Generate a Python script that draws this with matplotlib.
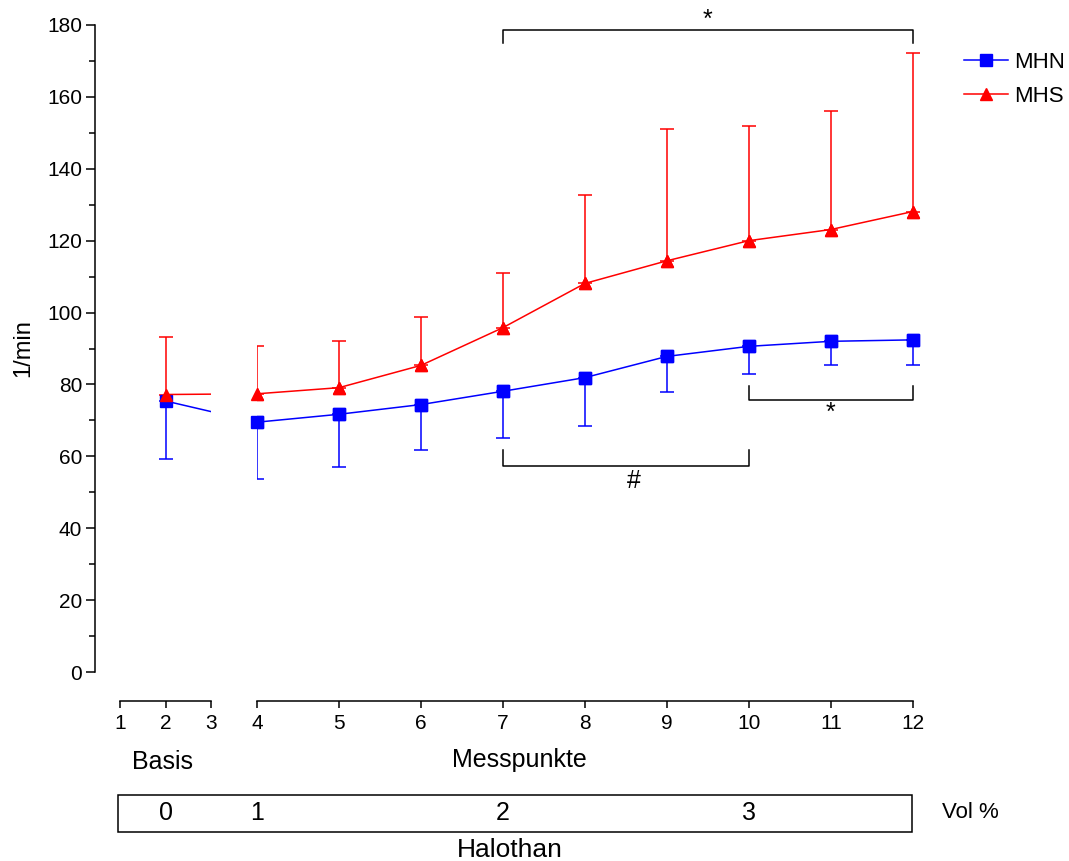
import matplotlib
matplotlib.use('Agg')
import matplotlib.pyplot as plt
import matplotlib.transforms as mtransforms
from matplotlib.patches import Rectangle
import numpy as np

plt.rcParams['font.family'] = ['Liberation Sans', 'DejaVu Sans']

# Messpunkte
x = [2, 4, 5, 6, 7, 8, 9, 10, 11, 12]
mhn_mean = [75.4, 69.5, 71.7, 74.4, 78.1, 81.9, 87.8, 90.6, 92.0, 92.4]
mhn_low = [59.3, 53.6, 57.0, 61.9, 65.0, 68.5, 77.9, 83.0, 85.3, 85.3]
mhs_mean = [77.2, 77.4, 79.1, 85.3, 95.8, 108.1, 114.4, 120.0, 123.1, 128.1]
mhs_high = [93.1, 90.6, 92.2, 98.9, 111.1, 132.7, 151.0, 151.8, 156.1, 172.2]

basis_ticks = [1, 2, 3]
mess_ticks = [4, 5, 6, 7, 8, 9, 10, 11, 12]

# Halothan Vol % labels and where they sit on the x scale
halothan_vol = ['0', '1', '2', '3']
halothan_x = [2, 4, 7, 10]

# significance brackets: (x start, x end, y line, y tip, label, label y)
brackets = [
    (7, 12, 178.6, 175.0, '*', 181.5),
    (7, 10, 57.3, 61.7, '#', 53.0),
    (10, 12, 75.6, 79.7, '*', 72.0),
]
bracket_label_x = [9.5, 8.6, 11.0]

W, H = 1069, 861


def px(xp, yp):
    return xp / W, 1 - yp / H


fig = plt.figure(figsize=(W / 100, H / 100), dpi=100)
bottom = (H - 672) / H
height = 647 / H
ax1 = fig.add_axes([95 / W, bottom, 116 / W, height])
ax2 = fig.add_axes([257 / W, bottom, 664 / W, height])

x = np.array(x)
mhn_mean = np.array(mhn_mean)
mhn_low = np.array(mhn_low)
mhs_mean = np.array(mhs_mean)
mhs_high = np.array(mhs_high)

blue = '#0000ff'
red = '#ff0000'
lw = 1.1


def draw(ax, sel, clip_markers):
    xs = x[sel]
    zero = np.zeros(len(xs))
    ax.errorbar(xs, mhn_mean[sel], yerr=[mhn_mean[sel] - mhn_low[sel], zero],
                fmt='none', ecolor=blue, elinewidth=lw, capsize=4.8, capthick=lw)
    ax.errorbar(xs, mhs_mean[sel], yerr=[zero, mhs_high[sel] - mhs_mean[sel]],
                fmt='none', ecolor=red, elinewidth=lw, capsize=4.8, capthick=lw)
    l1, = ax.plot(xs, mhn_mean[sel], color=blue, lw=lw, marker='s', ms=8,
                  label='MHN')
    l2, = ax.plot(xs, mhs_mean[sel], color=red, lw=lw, marker='^', ms=9,
                  label='MHS')
    if not clip_markers:
        ax.plot(xs, mhn_mean[sel], ls='none', color=blue, marker='s', ms=8,
                clip_on=False)
        ax.plot(xs, mhs_mean[sel], ls='none', color=red, marker='^', ms=9,
                clip_on=False)
    return l1, l2


draw(ax1, slice(None), True)
h1, h2 = draw(ax2, x >= 4, False)

for ax in (ax1, ax2):
    ax.set_ylim(0, 180)
    ax.spines['top'].set_visible(False)
    ax.spines['right'].set_visible(False)
    ax.spines['bottom'].set_position(('outward', 21))
    ax.spines['bottom'].set_linewidth(lw)
    ax.spines['left'].set_linewidth(lw)
    ax.tick_params(axis='x', which='major', direction='out', length=5,
                   width=lw, labelsize=15, pad=4)
    ax.patch.set_visible(False)

ax1.set_xlim(0.45, 3)
ax1.spines['bottom'].set_bounds(1, 3)
ax1.set_xticks(basis_ticks)
ax1.set_xticks([3], minor=True)
ax1.tick_params(axis='x', which='minor', direction='inout', length=10, width=lw)
ax1.spines['left'].set_bounds(0, 180)
ax1.set_yticks(np.arange(0, 181, 20))
ax1.set_yticks(np.arange(0, 181, 10), minor=True)
ax1.tick_params(axis='y', which='major', length=6.3, width=lw, labelsize=15, pad=3)
ax1.tick_params(axis='y', which='minor', length=4, width=lw)
ax1.set_ylabel('1/min', fontsize=17, labelpad=9)

ax2.set_xlim(4, 12.1)
ax2.spines['bottom'].set_bounds(4, 12)
ax2.spines['left'].set_visible(False)
ax2.set_xticks(mess_ticks)
ax2.set_xticks([4, 12], minor=True)
ax2.tick_params(axis='x', which='minor', direction='inout', length=10, width=lw)
ax2.tick_params(axis='y', which='both', left=False, labelleft=False)

# significance brackets
for (xa, xb, yl, yt, lab, ly), lx in zip(brackets, bracket_label_x):
    ax2.plot([xa, xa, xb, xb], [yt, yl, yl, yt], color='black', lw=lw,
             clip_on=False)
    ax2.text(lx, ly, lab, ha='center', va='center', fontsize=18, clip_on=False)

# x axis group labels
fig.text(*px(163, 762), 'Basis', ha='center', va='center', fontsize=18)
fig.text(*px(519, 760), 'Messpunkte', ha='center', va='center', fontsize=18)

# Halothan box
x0, y0 = px(118, 832)
x1, y1 = px(912, 795)
fig.add_artist(Rectangle((x0, y0), x1 - x0, y1 - y0, transform=fig.transFigure,
                         fill=False, edgecolor='black', lw=lw))
ybox = px(0, 813)[1]
for lab, hx in zip(halothan_vol, halothan_x):
    ax = ax1 if hx < 4 else ax2
    tr = mtransforms.blended_transform_factory(ax.transData, fig.transFigure)
    fig.text(hx, ybox, lab, transform=tr, ha='center', va='center', fontsize=18)
fig.text(*px(942, 813), 'Vol %', ha='left', va='center', fontsize=16)
fig.text(*px(510, 850), 'Halothan', ha='center', va='center', fontsize=19)

fig.legend([h1, h2], ['MHN', 'MHS'], loc='upper left',
           bbox_to_anchor=px(955, 43), frameon=False, fontsize=16,
           handlelength=2.0, numpoints=1, labelspacing=0.6, handletextpad=0.25,
           borderaxespad=0)

fig.savefig('out.png', dpi=100)
